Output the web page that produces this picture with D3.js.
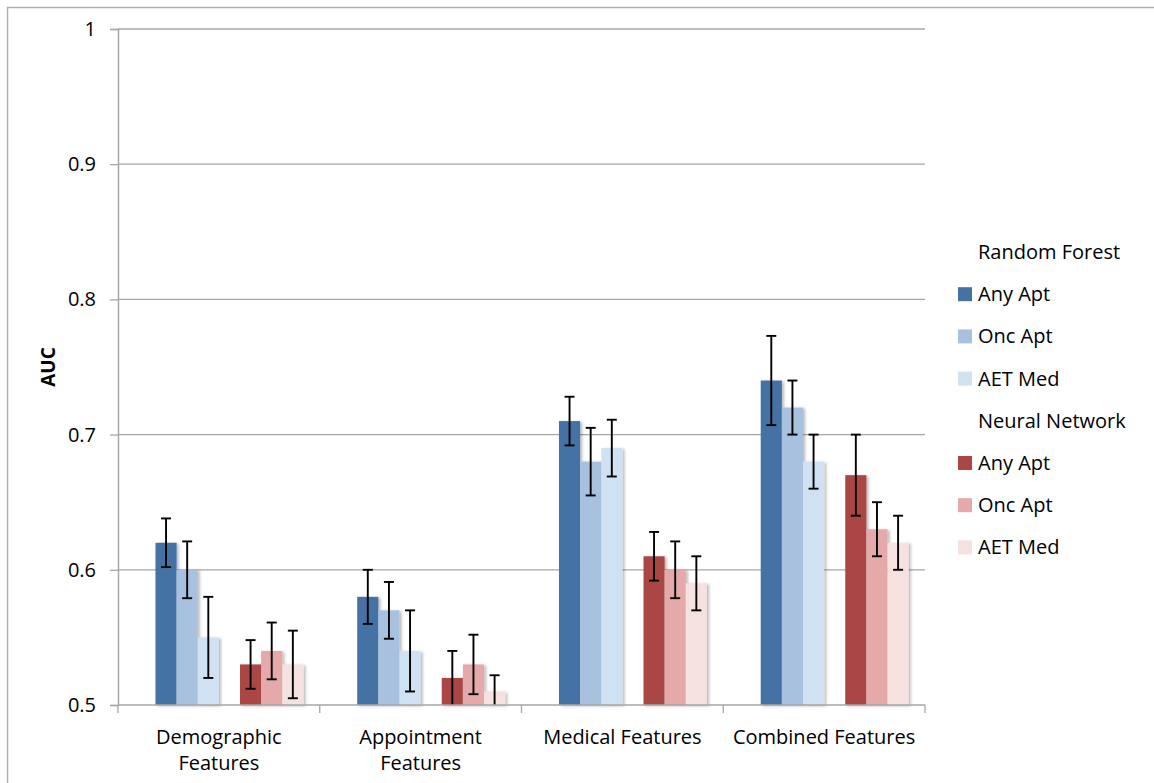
<!DOCTYPE html>
<html>
<head>
<meta charset="utf-8">
<script src="https://cdn.jsdelivr.net/npm/d3@7"></script>
<style>
  html, body { margin: 0; padding: 0; background: #fff; }
  svg { display: block; font-family: "Open Sans", "Noto Sans", sans-serif; }
</style>
</head>
<body>
<svg id="chart" width="1154" height="783"></svg>
<script>
// Feature sets compared on the x axis
const categories = ["Demographic Features", "Appointment Features", "Medical Features", "Combined Features"];
const categoryLines = [["Demographic", "Features"], ["Appointment", "Features"], ["Medical Features"], ["Combined Features"]];

// Mean AUC per model / outcome, one value per feature set
const rfAny = [0.62, 0.58, 0.71, 0.74];
const rfOnc = [0.60, 0.57, 0.68, 0.72];
const rfAet = [0.55, 0.54, 0.69, 0.68];
const nnAny = [0.53, 0.52, 0.61, 0.67];
const nnOnc = [0.54, 0.53, 0.60, 0.63];
const nnAet = [0.53, 0.51, 0.59, 0.62];

// Half-widths of the error bars
const rfAnyErr = [0.018, 0.020, 0.018, 0.033];
const rfOncErr = [0.021, 0.021, 0.025, 0.020];
const rfAetErr = [0.030, 0.030, 0.021, 0.020];
const nnAnyErr = [0.018, 0.020, 0.018, 0.030];
const nnOncErr = [0.021, 0.022, 0.021, 0.020];
const nnAetErr = [0.025, 0.012, 0.020, 0.020];

// Y axis ticks
const yTicks = [0.5, 0.6, 0.7, 0.8, 0.9, 1];

// Legend / series slots; the model headings take an empty slot in each cluster
const series = [
  { key: "rfHead", label: "Random Forest", color: null },
  { key: "rfAny", label: "Any Apt", color: "#4572a5", values: rfAny, err: rfAnyErr },
  { key: "rfOnc", label: "Onc Apt", color: "#a7c1df", values: rfOnc, err: rfOncErr },
  { key: "rfAet", label: "AET Med", color: "#d0e1f3", values: rfAet, err: rfAetErr },
  { key: "nnHead", label: "Neural Network", color: null },
  { key: "nnAny", label: "Any Apt", color: "#aa4744", values: nnAny, err: nnAnyErr },
  { key: "nnOnc", label: "Onc Apt", color: "#e4a9a8", values: nnOnc, err: nnOncErr },
  { key: "nnAet", label: "AET Med", color: "#f4e1e0", values: nnAet, err: nnAetErr }
];

const svg = d3.select("#chart");
const plot = { left: 118, right: 925, top: 29, bottom: 705 };
const gridColor = "#a6a6a6";

// Outer chart frame (runs off the right and bottom edges)
svg.append("rect")
  .attr("x", 7.5).attr("y", 7.5)
  .attr("width", 1160).attr("height", 790)
  .attr("fill", "#fff").attr("stroke", "#b0b0b0").attr("stroke-width", 1.5);

const defs = svg.append("defs");
defs.append("filter").attr("id", "barShadow")
  .attr("x", "-20%").attr("y", "-20%").attr("width", "150%").attr("height", "150%")
  .append("feDropShadow")
  .attr("dx", 2).attr("dy", 1).attr("stdDeviation", 1.4)
  .attr("flood-color", "#000").attr("flood-opacity", 0.28);

const x = d3.scaleBand()
  .domain(categories)
  .range([plot.left, plot.right])
  .paddingInner(0.162)
  .paddingOuter(0.081);

const xSlot = d3.scaleBand()
  .domain(series.map(s => s.key))
  .range([0, x.bandwidth()])
  .padding(0);

const y = d3.scaleLinear().domain([0.5, 1]).range([plot.bottom, plot.top]);

// Horizontal gridlines
svg.append("g")
  .selectAll("line")
  .data(yTicks.filter(t => t > 0.5))
  .join("line")
  .attr("x1", plot.left).attr("x2", plot.right)
  .attr("y1", d => y(d)).attr("y2", d => y(d))
  .attr("stroke", gridColor).attr("stroke-width", 1.3);

// Bars
const dataSeries = series.filter(s => s.values);
const barGroups = svg.append("g")
  .selectAll("g")
  .data(dataSeries)
  .join("g")
  .attr("fill", s => s.color)
  .attr("filter", "url(#barShadow)");

barGroups.selectAll("rect")
  .data(s => s.values.map((v, i) => ({ key: s.key, cat: categories[i], v })))
  .join("rect")
  .attr("x", d => x(d.cat) + xSlot(d.key))
  .attr("width", xSlot.bandwidth())
  .attr("y", d => y(d.v))
  .attr("height", d => y(0.5) - y(d.v));

// Error bars (clipped to the axis minimum)
const errData = dataSeries.flatMap(s => s.values.map((v, i) => ({
  key: s.key, cat: categories[i], v, e: s.err[i]
})));
const capW = 10;
const eg = svg.append("g").attr("stroke", "#000").attr("stroke-width", 1.9).attr("fill", "none");
errData.forEach(d => {
  const cx = x(d.cat) + xSlot(d.key) + xSlot.bandwidth() / 2;
  const hi = d.v + d.e;
  const lo = Math.max(d.v - d.e, 0.5);
  eg.append("line").attr("x1", cx).attr("x2", cx).attr("y1", y(hi)).attr("y2", y(lo));
  eg.append("line").attr("x1", cx - capW / 2).attr("x2", cx + capW / 2).attr("y1", y(hi)).attr("y2", y(hi));
  if (d.v - d.e > 0.5) {
    eg.append("line").attr("x1", cx - capW / 2).attr("x2", cx + capW / 2).attr("y1", y(lo)).attr("y2", y(lo));
  }
});

// Y axis
const yAxis = svg.append("g")
  .attr("transform", `translate(${plot.left},0)`)
  .call(d3.axisLeft(y).tickValues(yTicks).tickSize(8).tickPadding(14).tickFormat(d3.format("~g")));
yAxis.select(".domain").attr("stroke", gridColor).attr("stroke-width", 1.5);
yAxis.selectAll(".tick line").attr("stroke", gridColor).attr("stroke-width", 1.3);
yAxis.selectAll(".tick text")
  .attr("fill", "#000").attr("font-size", 20)
  .attr("font-family", "'Open Sans', sans-serif");

// X axis line with ticks at the category boundaries
const xg = svg.append("g");
xg.append("line")
  .attr("x1", plot.left).attr("x2", plot.right)
  .attr("y1", plot.bottom).attr("y2", plot.bottom)
  .attr("stroke", gridColor).attr("stroke-width", 1.5);
const bounds = categories.map(c => x(c) - x.step() * x.paddingInner() / 2).concat([plot.right]);
xg.selectAll("line.tick")
  .data(bounds)
  .join("line")
  .attr("class", "tick")
  .attr("x1", d => d).attr("x2", d => d)
  .attr("y1", plot.bottom).attr("y2", plot.bottom + 8)
  .attr("stroke", gridColor).attr("stroke-width", 1.3);

// Category labels
categories.forEach((c, i) => {
  const t = xg.append("text")
    .attr("x", x(c) + x.bandwidth() / 2)
    .attr("y", 744)
    .attr("text-anchor", "middle")
    .attr("font-size", 20)
    .attr("fill", "#000");
  categoryLines[i].forEach((ln, j) => {
    t.append("tspan").attr("x", x(c) + x.bandwidth() / 2).attr("dy", j === 0 ? 0 : 26).text(ln);
  });
});

// Y axis title
svg.append("text")
  .attr("transform", `translate(55,${(plot.top + plot.bottom) / 2}) rotate(-90)`)
  .attr("text-anchor", "middle")
  .attr("font-size", 19)
  .attr("font-weight", "bold")
  .attr("fill", "#000")
  .text("AUC");

// Legend
const legend = svg.append("g").attr("transform", "translate(958,252)");
const rowH = 42.2;
const rows = legend.selectAll("g")
  .data(series)
  .join("g")
  .attr("transform", (d, i) => `translate(0,${i * rowH})`);
rows.filter(d => d.color)
  .append("rect")
  .attr("x", 0).attr("y", -7)
  .attr("width", 14).attr("height", 14)
  .attr("fill", d => d.color);
rows.append("text")
  .attr("x", 20).attr("y", 0)
  .attr("dy", "0.35em")
  .attr("font-size", 20)
  .attr("fill", "#000")
  .text(d => d.label);
</script>
</body>
</html>
